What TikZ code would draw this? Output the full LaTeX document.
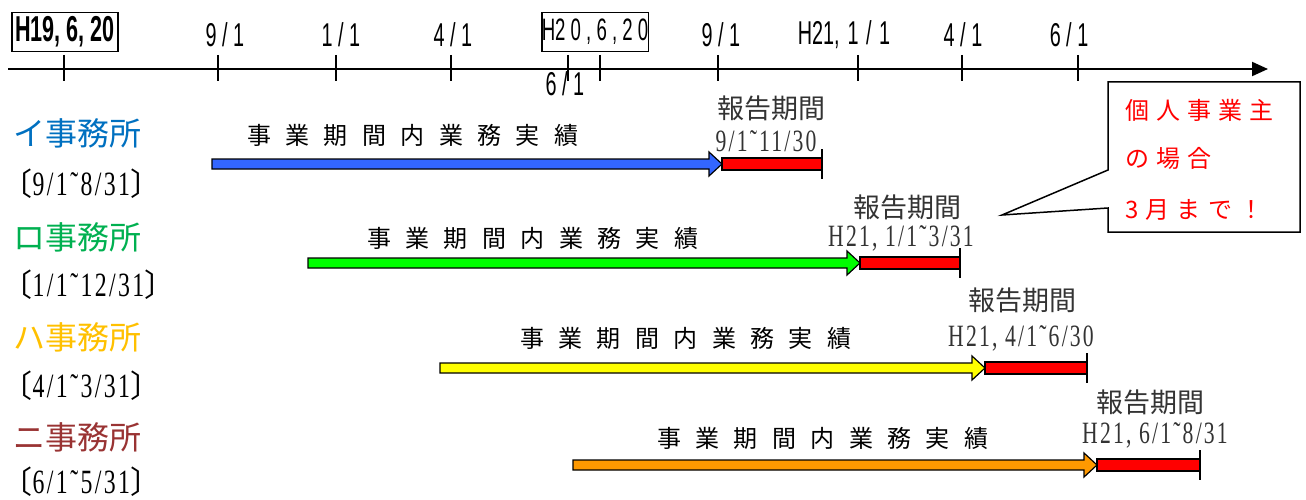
\documentclass[tikz,border=0pt]{standalone}
\usepackage{fontspec}
\usetikzlibrary{calc,arrows.meta}
\newfontfamily\jp{Noto Sans CJK JP}
\newfontfamily\jpbr[RawFeature=+halt]{Noto Sans CJK JP}
\newfontfamily\jpwide[LetterSpace=60]{Noto Sans CJK JP}
\newfontfamily\jpmemo[LetterSpace=30]{Noto Sans CJK JP}
\newfontfamily\ticks[FakeStretch=0.6]{Liberation Sans}
\newfontfamily\dates[FakeStretch=0.7,LetterSpace=7]{Liberation Serif}
\newcommand{\fsz}[1]{\fontsize{#1}{#1}\selectfont}
\newcommand{\lbr}{{\jpbr\fsz{31}〔}}
\newcommand{\rbr}{{\jpbr\fsz{31}〕}}
\definecolor{iblue}{RGB}{0,112,192}
\definecolor{rogreen}{RGB}{0,176,80}
\definecolor{hayellow}{RGB}{255,192,0}
\definecolor{nibrown}{RGB}{153,51,51}
\definecolor{barblue}{RGB}{51,102,255}
\definecolor{bargreen}{RGB}{0,255,0}
\definecolor{baryellow}{RGB}{255,255,0}
\definecolor{barorange}{RGB}{255,153,0}
\definecolor{repred}{RGB}{255,0,0}
% block arrow: start, tip, fill
\newcommand{\bararrow}[3]{%
\filldraw[fill=#3,line width=1.2pt] ($(#1)+(0,-5)$) -- ($(#2)+(-13,-5)$) -- ($(#2)+(-13,-12)$) -- (#2) -- ($(#2)+(-13,12)$) -- ($(#2)+(-13,5)$) -- ($(#1)+(0,5)$) -- cycle;}
% red report bar: start, end
\newcommand{\reportbar}[2]{%
\filldraw[fill=repred,line width=1.2pt] ($(#1)+(0,-6)$) rectangle ($(#2)+(0,6)$);
\draw[line width=1.5pt] ($(#2)+(0,-15)$) -- ($(#2)+(0,15)$);}
\tikzset{
  tick/.style={inner sep=0pt,font=\ticks\fsz{33}},
  datebox/.style={draw,line width=1.5pt,inner sep=0pt,minimum width=106pt,minimum height=39pt},
  office/.style={inner sep=0pt,font=\jp\fsz{32}},
  span/.style={anchor=west,inner sep=0pt,font=\dates\fsz{34}},
  work/.style={anchor=west,inner sep=0pt,font=\jpwide\fsz{24}},
  report/.style={inner sep=0pt,text=black!80,font=\jp\fsz{27}},
  repdate/.style={inner sep=0pt,text=black!80,font=\dates\fsz{31}},
  memo/.style={anchor=west,inner sep=0pt,text=repred,font=\jpmemo\fsz{24}}
}
\begin{document}
\begin{tikzpicture}[x=1pt,y=-1pt]
\useasboundingbox (0,0) rectangle (1306,500);
% time axis
\coordinate (axL) at (8,69);
\coordinate (axR) at (1268,69);
\draw[line width=2pt,-{Triangle[length=16pt,width=14pt]}] (axL) -- (axR);
\foreach \x in {64,218,336,451,568,600,718,858,962,1078}
  \draw[line width=1.5pt] (\x,55) -- (\x,81);
\node[datebox,font=\ticks\bfseries\fsz{36}] (d0) at (65,32) {H19, 6, 20};
\node[tick] (d1) at (225,35) {9 / 1};
\node[tick] (d2) at (341,35) {1 / 1};
\node[tick] (d3) at (453,35) {4 / 1};
\node[datebox,font=\ticks\fsz{31}] (d4) at (595,32) {H2 0 , 6 , 2 0};
\node[tick] (d5) at (565,84) {6 / 1};
\node[tick] (d6) at (721,35) {9 / 1};
\node[tick] (d7) at (844,35) {H21,\hspace{8pt}1\hspace{2pt} / \hspace{2pt}1};
\node[tick] (d8) at (963,35) {4 / 1};
\node[tick] (d9) at (1069,35) {6 / 1};
% イ
\node[office,text=iblue] (iname) at (77,133) {イ事務所};
\node[span] (ispan) at (17,184) {\lbr9/1˜8/31\rbr};
\node[work] (iwork) at (247,135) {事業期間内業務実績};
\coordinate (ia) at (212,164);
\coordinate (ib) at (722,164);
\coordinate (ic) at (822,164);
\bararrow{ia}{ib}{barblue}
\reportbar{ib}{ic}
\node[report] (irep) at (771,108) {報告期間};
\node[repdate] (idate) at (766,141) {9/1˜11/30};
% ロ
\node[office,text=rogreen] (roname) at (77,237) {ロ事務所};
\node[span] (rospan) at (17,285) {\lbr1/1˜12/31\rbr};
\node[work] (rowork) at (367,238) {事業期間内業務実績};
\coordinate (roa) at (308,263);
\coordinate (rob) at (860,263);
\coordinate (roc) at (960,263);
\bararrow{roa}{rob}{bargreen}
\reportbar{rob}{roc}
\node[report] (rorep) at (907,207) {報告期間};
\node[repdate] (rodate) at (901,238) {H21, 1/1˜3/31};
% ハ
\node[office,text=hayellow] (haname) at (77,337) {ハ事務所};
\node[span] (haspan) at (17,386) {\lbr4/1˜3/31\rbr};
\node[work] (hawork) at (520,338) {事業期間内業務実績};
\coordinate (haa) at (440,368);
\coordinate (hab) at (985,368);
\coordinate (hac) at (1087,368);
\bararrow{haa}{hab}{baryellow}
\reportbar{hab}{hac}
\node[report] (harep) at (1022,300) {報告期間};
\node[repdate] (hadate) at (1021,338) {H21, 4/1˜6/30};
% ニ
\node[office,text=nibrown] (niname) at (77,437) {ニ事務所};
\node[span] (nispan) at (17,482) {\lbr6/1˜5/31\rbr};
\node[work] (niwork) at (657,438) {事業期間内業務実績};
\coordinate (nia) at (573,465);
\coordinate (nib) at (1097,465);
\coordinate (nic) at (1200,465);
\bararrow{nia}{nib}{barorange}
\reportbar{nib}{nic}
\node[report] (nirep) at (1150,402) {報告期間};
\node[repdate] (nidate) at (1155,435) {H21, 6/1˜8/31};
% callout
\coordinate (tip) at (1002,215);
\draw[line width=1.5pt,fill=white] (1108,82) -- (1300,82) -- (1300,232) -- (1108,232) -- (1108,208) -- (tip) -- (1108,170) -- cycle;
\node[memo] (m1) at (1125,110) {個人事業主};
\node[memo] (m2) at (1125,158) {の場合};
\node[memo] (m3) at (1125,210) {3月まで！};
\end{tikzpicture}
\end{document}
